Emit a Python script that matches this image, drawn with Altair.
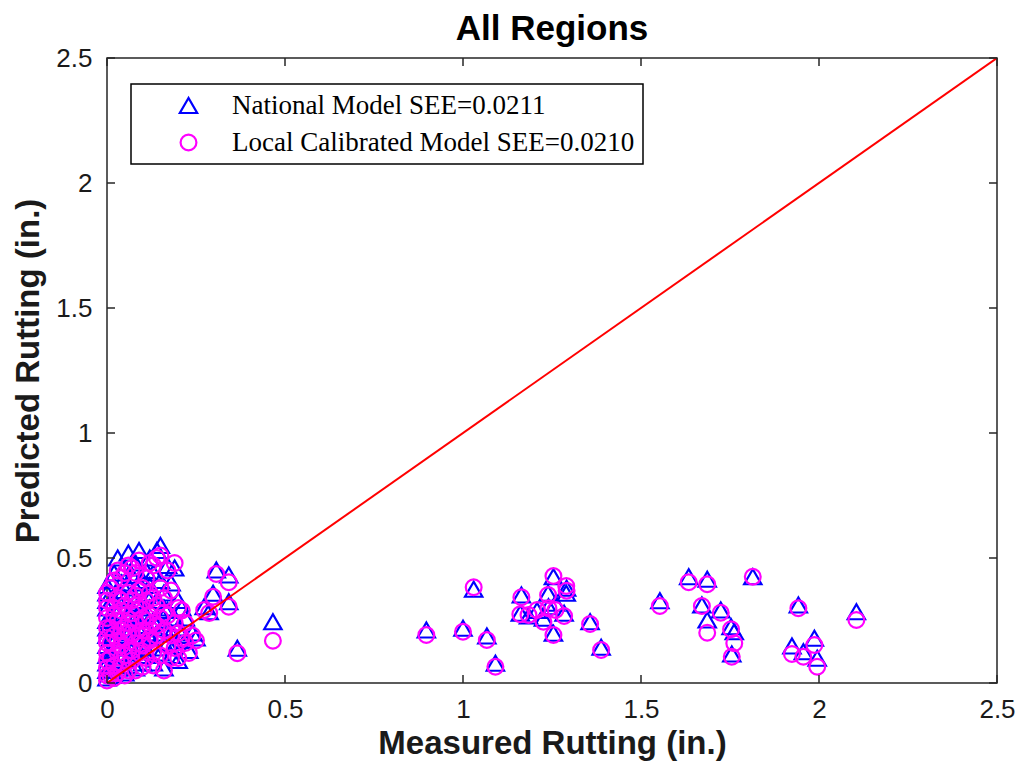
import altair as alt
import pandas as pd

# Measured rutting (x), predicted by national model, predicted by local calibrated model
measured = [
    # dense cluster near origin
    0.00, 0.00, 0.00, 0.00, 0.00, 0.00, 0.00, 0.00, 0.00, 0.00, 0.00, 0.00,
    0.01, 0.01, 0.01, 0.01, 0.01, 0.02, 0.02, 0.02, 0.02, 0.02,
    0.03, 0.03, 0.03, 0.03, 0.03, 0.04, 0.04, 0.04, 0.04, 0.04,
    0.05, 0.05, 0.05, 0.05, 0.05, 0.06, 0.06, 0.06, 0.06, 0.06,
    0.07, 0.07, 0.07, 0.07, 0.07, 0.08, 0.08, 0.08, 0.08, 0.08,
    0.09, 0.09, 0.09, 0.09, 0.10, 0.10, 0.10, 0.10,
    0.11, 0.11, 0.11, 0.11, 0.12, 0.12, 0.12, 0.12,
    0.13, 0.13, 0.13, 0.13, 0.14, 0.14, 0.14,
    0.15, 0.15, 0.15, 0.15, 0.16, 0.16, 0.16,
    0.17, 0.17, 0.17, 0.18, 0.18, 0.18,
    0.19, 0.19, 0.19, 0.20, 0.20, 0.20,
    0.21, 0.21, 0.22, 0.22, 0.24, 0.25, 0.23,
    0.02, 0.05, 0.08, 0.11, 0.14, 0.03, 0.06, 0.09, 0.12, 0.04, 0.07, 0.10, 0.13, 0.16,
    # spread just right of cluster
    0.307, 0.342, 0.298, 0.342, 0.273, 0.287, 0.466, 0.366,
    # far points
    0.897, 1.000, 1.067, 1.091, 1.030, 1.164, 1.161, 1.254, 1.291, 1.290,
    1.239, 1.184, 1.208, 1.240, 1.226, 1.260, 1.284, 1.254, 1.357, 1.388,
    1.553, 1.634, 1.686, 1.814, 1.671, 1.724, 1.686, 1.753, 1.762, 1.755,
    1.942, 2.105, 1.924, 1.956, 1.987, 1.995,
]

national = [
    0.02, 0.08, 0.15, 0.22, 0.30, 0.36, 0.05, 0.11, 0.19, 0.25, 0.33, 0.39,
    0.05, 0.12, 0.26, 0.41, 0.18, 0.33, 0.10, 0.44, 0.21, 0.03,
    0.28, 0.14, 0.50, 0.37, 0.06, 0.24, 0.40, 0.17, 0.31, 0.09,
    0.46, 0.20, 0.34, 0.04, 0.12, 0.27, 0.52, 0.39, 0.15, 0.07,
    0.22, 0.43, 0.30, 0.10, 0.35, 0.18, 0.48, 0.26, 0.06, 0.38,
    0.13, 0.32, 0.53, 0.21, 0.41, 0.08, 0.28, 0.16,
    0.45, 0.23, 0.35, 0.11, 0.50, 0.19, 0.30, 0.39,
    0.14, 0.25, 0.44, 0.08, 0.33, 0.20, 0.53,
    0.28, 0.12, 0.41, 0.55, 0.06, 0.22, 0.36,
    0.16, 0.47, 0.29, 0.20, 0.40, 0.11,
    0.26, 0.46, 0.15, 0.33, 0.22, 0.09,
    0.30, 0.19, 0.17, 0.26, 0.20, 0.18, 0.13,
    0.29, 0.24, 0.33, 0.27, 0.25, 0.19, 0.22, 0.40, 0.18, 0.35, 0.14, 0.23, 0.36, 0.30,
    0.452, 0.432, 0.359, 0.325, 0.305, 0.285, 0.245, 0.139,
    0.212, 0.219, 0.188, 0.079, 0.375, 0.352, 0.279, 0.425, 0.379, 0.359,
    0.359, 0.268, 0.290, 0.305, 0.259, 0.319, 0.279, 0.199, 0.245, 0.143,
    0.329, 0.425, 0.415, 0.425, 0.312, 0.292, 0.252, 0.225, 0.205, 0.116,
    0.312, 0.285, 0.148, 0.125, 0.179, 0.099,
]

local = [
    0.01, 0.06, 0.12, 0.18, 0.26, 0.33, 0.03, 0.09, 0.16, 0.22, 0.30, 0.36,
    0.03, 0.10, 0.22, 0.38, 0.16, 0.30, 0.07, 0.41, 0.19, 0.02,
    0.25, 0.12, 0.45, 0.34, 0.04, 0.21, 0.42, 0.15, 0.29, 0.08,
    0.44, 0.18, 0.31, 0.03, 0.11, 0.24, 0.47, 0.36, 0.13, 0.05,
    0.20, 0.46, 0.28, 0.09, 0.33, 0.16, 0.44, 0.24, 0.05, 0.35,
    0.12, 0.30, 0.49, 0.19, 0.38, 0.065, 0.26, 0.15,
    0.42, 0.21, 0.33, 0.10, 0.48, 0.18, 0.27, 0.36,
    0.12, 0.24, 0.47, 0.07, 0.31, 0.19, 0.50,
    0.26, 0.11, 0.38, 0.51, 0.05, 0.21, 0.34,
    0.15, 0.45, 0.27, 0.19, 0.37, 0.10,
    0.24, 0.48, 0.14, 0.30, 0.20, 0.10,
    0.29, 0.18, 0.16, 0.24, 0.19, 0.17, 0.12,
    0.27, 0.22, 0.31, 0.25, 0.23, 0.17, 0.20, 0.37, 0.17, 0.33, 0.13, 0.21, 0.34, 0.28,
    0.436, 0.403, 0.345, 0.305, 0.292, 0.280, 0.169, 0.119,
    0.192, 0.205, 0.172, 0.065, 0.383, 0.343, 0.275, 0.428, 0.369, 0.388,
    0.352, 0.272, 0.292, 0.299, 0.245, 0.292, 0.268, 0.192, 0.236, 0.132,
    0.308, 0.403, 0.395, 0.425, 0.308, 0.281, 0.201, 0.215, 0.159, 0.105,
    0.299, 0.252, 0.116, 0.105, 0.152, 0.065,
]

series_names = ["National Model SEE=0.0211", "Local Calibrated Model SEE=0.0210"]
chart_title = ["All Regions"]
line_x = [0.0, 2.5]
tick_values = [0.0, 0.5, 1.0, 1.5, 2.0, 2.5]

W, H = 890, 625
TICK = 8
FRAME = "#262626"

pts = pd.DataFrame(
    {"m": measured * 2,
     "p": national + local,
     "s": [series_names[0]] * len(national) + [series_names[1]] * len(local)}
)
line_df = pd.DataFrame({"m": line_x, "p": line_x})
ticks_df = pd.DataFrame({"t": tick_values})
title_df = pd.DataFrame({"title": chart_title})

xscale = alt.Scale(domain=[0, 2.5], nice=False, zero=False)
yscale = alt.Scale(domain=[0, 2.5], nice=False, zero=False)

xaxis = alt.Axis(values=tick_values, format="~g", title="Measured Rutting (in.)",
                 grid=False, domain=False, ticks=False, labelPadding=13,
                 labelFlush=False, titlePadding=5)
yaxis = alt.Axis(values=tick_values, format="~g", title="Predicted Rutting (in.)",
                 grid=False, domain=False, ticks=False, labelPadding=15,
                 labelFlush=False, titlePadding=10)

points = alt.Chart(pts).mark_point(filled=False, strokeWidth=2.2, opacity=1).encode(
    x=alt.X("m:Q", scale=xscale, axis=xaxis),
    y=alt.Y("p:Q", scale=yscale, axis=yaxis),
    color=alt.Color("s:N", scale=alt.Scale(domain=series_names, range=["#0000ff", "#ff00ff"]),
                    legend=alt.Legend(title=None, orient="none", legendX=24, legendY=26)),
    shape=alt.Shape("s:N", scale=alt.Scale(domain=series_names, range=["triangle-up", "circle"]),
                    legend=alt.Legend(title=None, orient="none", legendX=24, legendY=26)),
    size=alt.Size("s:N", scale=alt.Scale(domain=series_names, range=[300, 250]), legend=None),
    order=alt.Order("s:N", sort="descending"),
)

diag = alt.Chart(line_df).mark_line(color="#ff0000", strokeWidth=2, clip=True).encode(
    x=alt.X("m:Q", scale=xscale), y=alt.Y("p:Q", scale=yscale)
)

tb = alt.Chart(ticks_df).mark_rule(color=FRAME, strokeWidth=1.5)
ticks_bottom = tb.encode(x=alt.X("t:Q", scale=xscale), y=alt.value(H), y2=alt.value(H - TICK))
ticks_top = tb.encode(x=alt.X("t:Q", scale=xscale), y=alt.value(0), y2=alt.value(TICK))
ticks_left = tb.encode(y=alt.Y("t:Q", scale=yscale), x=alt.value(0), x2=alt.value(TICK))
ticks_right = tb.encode(y=alt.Y("t:Q", scale=yscale), x=alt.value(W), x2=alt.value(W - TICK))

title_text = alt.Chart(title_df).mark_text(
    font="Liberation Sans", fontSize=35, fontWeight="bold", color="black",
    align="center", baseline="alphabetic", clip=False,
).encode(text="title:N", x=alt.value(W / 2), y=alt.value(-18))

chart = alt.layer(points, diag, ticks_bottom, ticks_top, ticks_left, ticks_right, title_text).properties(
    width=W, height=H,
    autosize=alt.AutoSizeParams(type="none"),
    padding={"left": 99, "top": 50, "right": 18, "bottom": 80},
).configure_view(
    stroke=FRAME, strokeWidth=1.5
).configure_axis(
    labelFont="Liberation Sans", labelFontSize=26, labelColor="#1a1a1a",
    titleFont="Liberation Sans", titleFontSize=33, titleFontWeight="bold", titleColor="#1a1a1a",
).configure_legend(
    fillColor="white", strokeColor="black", strokeWidth=1.5, padding=8,
    labelFont="Liberation Serif", labelFontSize=27, labelColor="black", labelLimit=700,
    symbolSize=250, symbolStrokeWidth=2.2, symbolFillColor="transparent",
    symbolOffset=36, labelOffset=30, rowPadding=9,
)

chart.save("out.html", embed_options={"renderer": "svg", "actions": False})
